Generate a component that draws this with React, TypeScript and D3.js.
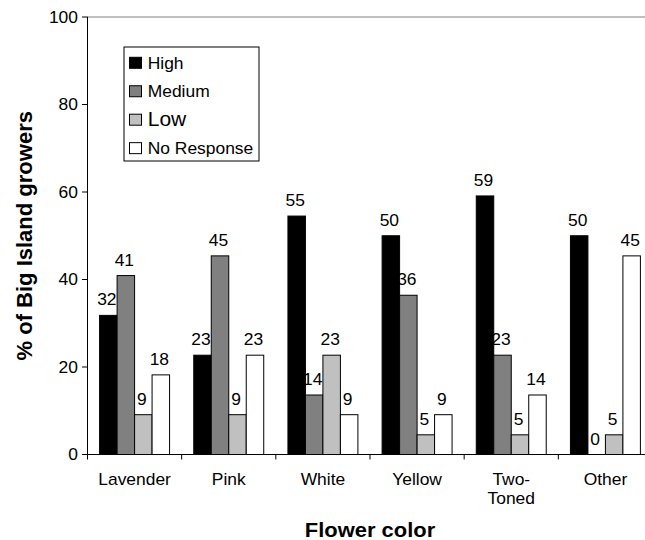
import React from "react";
import * as d3 from "d3";

const categories = ["Lavender", "Pink", "White", "Yellow", "Two-Toned", "Other"];
const categoryLines = [["Lavender"], ["Pink"], ["White"], ["Yellow"], ["Two-", "Toned"], ["Other"]];
const seriesNames = ["High", "Medium", "Low", "No Response"];
const high = [31.8, 22.7, 54.5, 50, 59.1, 50];
const medium = [40.9, 45.4, 13.6, 36.4, 22.7, 0];
const low = [9.1, 9.1, 22.7, 4.5, 4.5, 4.5];
const noResponse = [18.2, 22.7, 9.1, 9.1, 13.6, 45.4];
const seriesColors = ["#000000", "#808080", "#c0c0c0", "#ffffff"];
const yTicks = [0, 20, 40, 60, 80, 100];
const yTitle = "% of Big Island growers";
const xTitle = "Flower color";

const W = 645;
const H = 540;
const FONT = "'Liberation Sans', Arial, Helvetica, sans-serif";
const SX = 1.09;

export default function App() {
  const series = [high, medium, low, noResponse];
  const left = 87.5;
  const right = 652.5;
  const top = 17;
  const bottom = 454.5;

  const x0 = d3
    .scaleBand<string>()
    .domain(categories)
    .range([left, right])
    .paddingInner(0.257)
    .paddingOuter(0.1285);
  const x1 = d3
    .scaleBand<string>()
    .domain(seriesNames)
    .range([0, x0.bandwidth()])
    .padding(0);
  const y = d3.scaleLinear().domain([0, 100]).range([bottom, top]);
  const step = x0.step();
  const boundaries = d3.range(categories.length + 1).map((i) => left + i * step);

  const txt = (
    key: string | number,
    x: number,
    yy: number,
    s: string,
    size: number,
    anchor: string,
    weight: string = "normal",
    sx: number = SX
  ) => (
    <text
      key={key}
      transform={`translate(${x},${yy}) scale(${sx},1)`}
      textAnchor={anchor}
      fontSize={size}
      fontWeight={weight}
      fontFamily={FONT}
      fill="#000"
    >
      {s}
    </text>
  );

  return (
    <svg
      width={W}
      height={H}
      style={{ position: "absolute", left: 0, top: 0, background: "#fff" }}
    >
      <rect x={0} y={0} width={W} height={H} fill="#fff" />
      {/* plot area border */}
      <rect
        x={left}
        y={top}
        width={right - left}
        height={bottom - top}
        fill="none"
        stroke="#808080"
        strokeWidth={1}
      />

      {/* value labels (drawn beneath bars) */}
      {categories.map((c, ci) =>
        series.map((vals, si) =>
          txt(
            `l-${ci}-${si}`,
            (x0(c) as number) + (x1(seriesNames[si]) as number) + x1.bandwidth() / 2 - 1.5,
            y(vals[ci]) - 10,
            String(Math.round(vals[ci])),
            16,
            "middle"
          )
        )
      )}

      {/* bars */}
      {categories.map((c, ci) =>
        series.map((vals, si) => (
          <rect
            key={`b-${ci}-${si}`}
            x={(x0(c) as number) + (x1(seriesNames[si]) as number)}
            y={y(vals[ci])}
            width={x1.bandwidth()}
            height={y(0) - y(vals[ci])}
            fill={seriesColors[si]}
            stroke="#000"
            strokeWidth={1}
          />
        ))
      )}

      {/* axes */}
      <line x1={left} x2={left} y1={top} y2={bottom} stroke="#000" strokeWidth={1} />
      <line x1={left} x2={right} y1={bottom} y2={bottom} stroke="#000" strokeWidth={1} />
      {yTicks.map((t) => (
        <g key={`yt-${t}`}>
          <line x1={left - 5.5} x2={left} y1={y(t)} y2={y(t)} stroke="#000" strokeWidth={1} />
          {txt(`ytl-${t}`, 78, y(t) + 5.7, String(t), 16, "end")}
        </g>
      ))}
      {boundaries.map((b, i) => (
        <line key={`xt-${i}`} x1={b} x2={b} y1={bottom} y2={bottom + 5} stroke="#000" strokeWidth={1} />
      ))}
      {categories.map((c, ci) =>
        categoryLines[ci].map((ln, li) =>
          txt(`cl-${ci}-${li}`, (x0(c) as number) + x0.bandwidth() / 2, 484.5 + li * 19.5, ln, 16, "middle")
        )
      )}

      {/* axis titles */}
      {txt("xtitle", (left + right) / 2, 537, xTitle, 20.5, "middle", "bold", 1.07)}
      <text
        transform={`translate(32,${(top + bottom) / 2}) rotate(-90)`}
        textAnchor="middle"
        fontSize={22}
        fontWeight="bold"
        fontFamily={FONT}
        fill="#000"
      >
        {yTitle}
      </text>

      {/* legend */}
      <rect x={124} y={47} width={135} height={114} fill="#fff" stroke="#000" strokeWidth={1} />
      {seriesNames.map((n, i) => {
        const sy = 57.3 + i * 28.45;
        const isLow = n === "Low";
        return (
          <g key={`lg-${i}`}>
            <rect x={129.5} y={sy} width={12} height={11} fill={seriesColors[i]} stroke="#000" strokeWidth={1} />
            {txt(`lgt-${i}`, 147.7, sy + (isLow ? 12 : 11.5), n, isLow ? 21 : 16, "start", "normal", isLow ? 1.0 : SX)}
          </g>
        );
      })}
    </svg>
  );
}
